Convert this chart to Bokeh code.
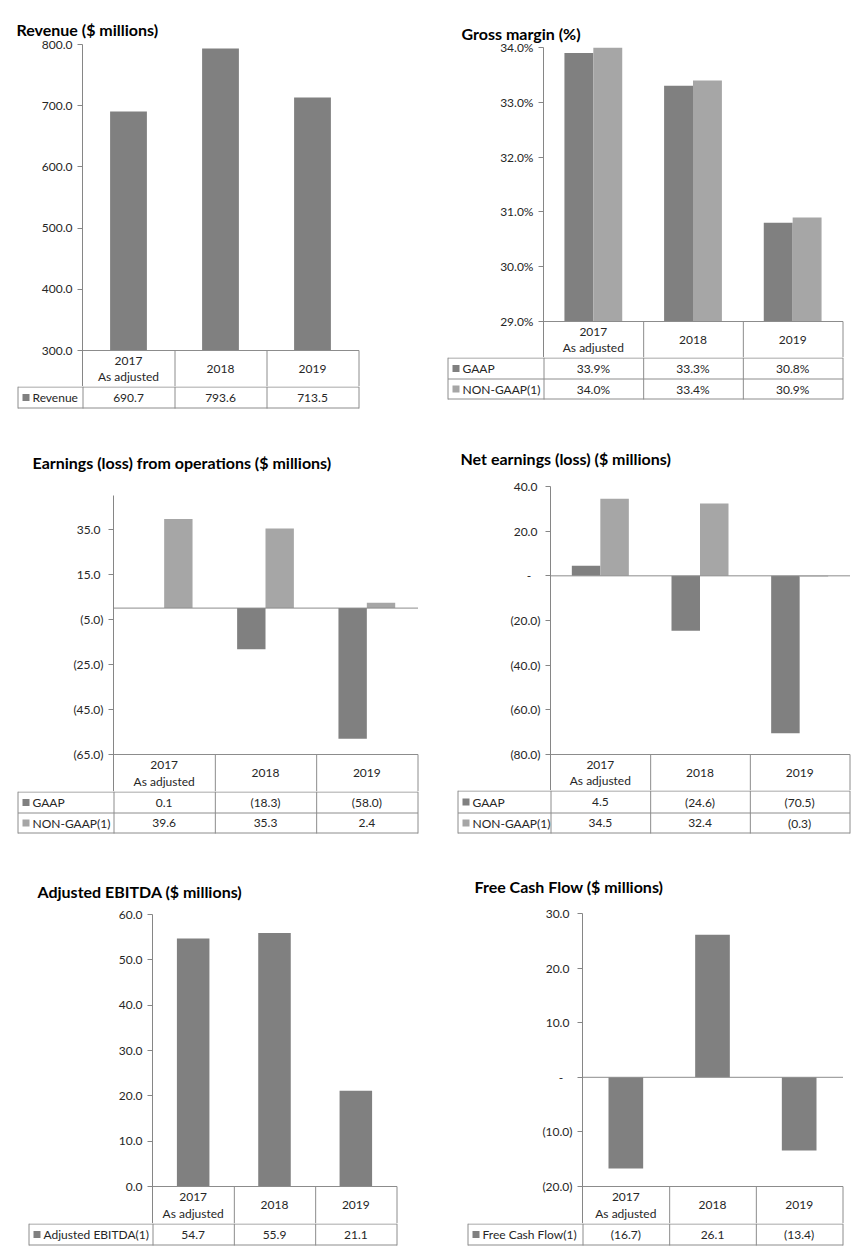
import numpy as np
from bokeh.plotting import figure
from bokeh.models import Range1d, FixedTicker, CustomJSTickFormatter, ColumnDataSource
from bokeh.layouts import row, column
from bokeh.core.properties import value
from bokeh.embed import file_html
from bokeh.resources import INLINE

# ---------------- data ----------------
categories = ["2017\nAs adjusted", "2018", "2019"]
revenue = [690.7, 793.6, 713.5]
gm_gaap = [33.9, 33.3, 30.8]
gm_nongaap = [34.0, 33.4, 30.9]
ops_gaap = [0.1, -18.3, -58.0]
ops_nongaap = [39.6, 35.3, 2.4]
net_gaap = [4.5, -24.6, -70.5]
net_nongaap = [34.5, 32.4, -0.3]
ebitda = [54.7, 55.9, 21.1]
fcf = [-16.7, 26.1, -13.4]

# ---------------- style ----------------
FONT = "Lato"
DARK = "#808080"
LIGHT = "#a6a6a6"
AXIS = "#868686"
GRIDC = "#8c8c8c"
TXT = "#262626"

JS_PLAIN = "return tick.toFixed(1);"
JS_PCT = "return tick.toFixed(1) + '%';"
JS_ACCT = """
const a = Math.abs(tick);
if (a < 1e-9) return '-\\u00a0\\u00a0\\u00a0';
const s = a.toFixed(1);
return tick < 0 ? '(' + s + ')' : s + '\\u00a0';
"""


def f_plain(v):
    return f"{v:.1f}"


def f_pct(v):
    return f"{v:.1f}%"


def f_acct(v):
    s = f"{abs(v):.1f}"
    return f"({s})" if v < 0 else s


def make_panel(title, series, colors, names, ylo, yhi, step, js, baseline, zero_line,
               bar_w, cell_fmt, fig_left, fig_w, fig_top, fig_h, legend_left, axis_x, col_end,
               frame_top, rows, title_x, title_cy):
    catw = (col_end - axis_x) / 3.0
    axis_bottom = rows[0]
    header_bottom = rows[1]
    upp = (yhi - ylo) / float(axis_bottom - frame_top)   # data units per pixel
    y_ext = ylo - (header_bottom - axis_bottom) * upp
    chart_h = header_bottom - fig_top
    rpad = 2.0
    p = figure(width=fig_w, height=chart_h, x_range=Range1d(0, 3 + rpad / catw),
               y_range=Range1d(y_ext, yhi),
               output_backend="svg", toolbar_location=None, x_axis_location=None,
               min_border_left=axis_x - fig_left,
               min_border_right=int(fig_left + fig_w - col_end - rpad),
               min_border_top=frame_top - fig_top, min_border_bottom=0, frame_align=False)
    p.title.text = title
    p.title.align = "left"
    p.title.offset = title_x - axis_x - 1
    p.title.standoff = max(2 * (frame_top - title_cy - 10) + 3, 0)
    p.title.text_font = FONT
    p.title.text_font_size = "16px"
    p.title.text_font_style = "bold"
    p.title.text_color = "#000000"
    p.outline_line_color = None
    p.xgrid.visible = False
    p.ygrid.visible = False
    p.background_fill_color = "white"
    p.border_fill_color = "white"

    n = len(series)
    for k, (vals, col) in enumerate(zip(series, colors)):
        off = (k - (n - 1) / 2.0) * bar_w
        src = ColumnDataSource(dict(x=[i + 0.5 + off for i in range(len(vals))], top=vals,
                                    bottom=[baseline] * len(vals)))
        p.vbar(x="x", top="top", bottom="bottom", width=bar_w, source=src,
               fill_color=col, line_color=None)

    # header row of the data table (inside chart figure, below axis minimum)
    hp = 0.5 / catw
    hx0, hx1, hy0, hy1 = [0.0], [3.0 + hp], [ylo], [ylo]
    for c in range(1, 4):
        hx0.append(c + hp); hx1.append(c + hp); hy0.append(ylo); hy1.append(y_ext)
    if zero_line:
        hx0.append(0.0); hx1.append(3.0 + hp); hy0.append(0.0); hy1.append(0.0)
    p.segment(x0=hx0, y0=hy0, x1=hx1, y1=hy1, line_color=GRIDC, line_width=1)
    p.text(x=[i + 0.5 for i in range(3)], y=[(ylo + y_ext) / 2.0] * 3, text=categories,
           text_align="center", text_baseline="middle", text_font=value(FONT),
           text_font_size="12px", text_color=TXT, text_line_height=1.12)

    ax = p.yaxis[0]
    ax.ticker = FixedTicker(ticks=[float(t) for t in np.arange(ylo, yhi + 1e-6, step)])
    ax.formatter = CustomJSTickFormatter(code=js)
    ax.axis_line_color = AXIS
    ax.major_tick_line_color = AXIS
    ax.major_tick_out = 5
    ax.major_tick_in = 0
    ax.minor_tick_line_color = None
    ax.major_label_text_font = FONT
    ax.major_label_text_font_size = "12px"
    ax.major_label_text_color = TXT
    ax.major_label_standoff = 5

    # ---------- data rows of the table ----------
    tab_h = fig_h - chart_h
    drows = [r - header_bottom for r in rows[1:]]
    L = (axis_x - legend_left) / catw
    pad = 3.0 / catw
    t = figure(width=fig_w, height=tab_h, x_range=Range1d(-L - pad, 3 + pad),
               y_range=Range1d(tab_h, 0), output_backend="svg", toolbar_location=None,
               x_axis_location=None, y_axis_location=None,
               min_border_left=legend_left - 3 - fig_left,
               min_border_right=fig_left + fig_w - col_end - 3,
               min_border_top=0, min_border_bottom=0, frame_align=False)
    t.outline_line_color = None
    t.xgrid.visible = False
    t.ygrid.visible = False
    x0s, x1s, y0s, y1s = [], [], [], []
    for r in drows:
        x0s.append(-L + hp); x1s.append(3 + hp); y0s.append(r + 0.5); y1s.append(r + 0.5)
    for c in [-L, 0, 1, 2, 3]:
        x0s.append(c + hp); x1s.append(c + hp); y0s.append(drows[0]); y1s.append(drows[-1] + 1)
    t.segment(x0=x0s, y0=y0s, x1=x1s, y1=y1s, line_color=GRIDC, line_width=1)

    for k, (vals, col, nm) in enumerate(zip(series, colors, names)):
        ry = (drows[k] + drows[k + 1]) / 2.0 + 0.5
        t.text(x=[i + 0.5 for i in range(3)], y=[ry] * 3, text=[cell_fmt(v) for v in vals],
               text_align="center", text_baseline="middle", text_font=value(FONT),
               text_font_size="12px", text_color=TXT)
        t.scatter(x=[-L + 8.5 / catw], y=[ry], marker="square", size=7,
                  fill_color=col, line_color=None)
        t.text(x=[-L + 15 / catw], y=[ry], text=[nm], text_align="left",
               text_baseline="middle", text_font=value(FONT), text_font_size="12px",
               text_color=TXT)
    return column(p, t)


p1 = make_panel("Revenue ($ millions)", [revenue], [DARK], ["Revenue"], 300, 800, 100,
                JS_PLAIN, 300, False, 0.40, f_plain,
                0, 430, 0, 420, 17, 82, 358, 44, [350, 386, 407], 17, 30)
p2 = make_panel("Gross margin (%)", [gm_gaap, gm_nongaap], [DARK, LIGHT],
                ["GAAP", "NON-GAAP(1)"], 29, 34, 1, JS_PCT, 29, False, 0.29, f_pct,
                430, 428, 0, 420, 447, 543, 842, 47, [321, 357, 378, 398], 462, 33.5)
p3 = make_panel("Earnings (loss) from operations ($ millions)", [ops_gaap, ops_nongaap],
                [DARK, LIGHT], ["GAAP", "NON-GAAP(1)"], -65, 50, 20, JS_ACCT, 0, True,
                0.28, f_acct, 0, 430, 420, 430, 17, 113, 417, 495, [754, 791, 812, 832],
                33, 462.5)
p4 = make_panel("Net earnings (loss) ($ millions)", [net_gaap, net_nongaap],
                [DARK, LIGHT], ["GAAP", "NON-GAAP(1)"], -80, 40, 20, JS_ACCT, 0, True,
                0.286, f_acct, 430, 428, 420, 430, 457, 550, 849, 486, [754, 790, 812, 832],
                461, 459)
p5 = make_panel("Adjusted EBITDA  ($ millions)", [ebitda], [DARK], ["Adjusted EBITDA(1)"],
                0, 60, 10, JS_PLAIN, 0, False, 0.40, f_plain,
                0, 430, 850, 400, 28, 152, 396, 914, [1186, 1223, 1244], 38, 891.5)
p6 = make_panel("Free Cash Flow ($ millions)", [fcf], [DARK], ["Free Cash Flow(1)"],
                -20, 30, 10, JS_ACCT, 0, True, 0.40, f_acct,
                430, 428, 850, 400, 467, 582, 842, 913, [1186, 1223, 1244], 475, 886.5)

layout = column(row(p1, p2), row(p3, p4), row(p5, p6))

with open("out.html", "w") as fh:
    fh.write(file_html(layout, INLINE))
